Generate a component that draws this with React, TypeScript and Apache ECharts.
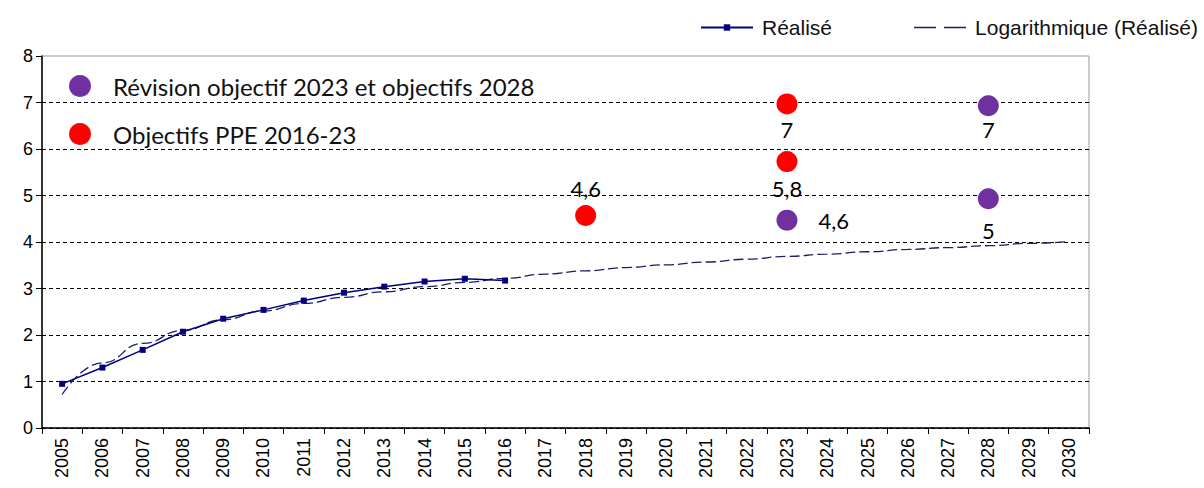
import React, { useEffect, useRef } from "react";
import * as echarts from "echarts";

const years = [
  "2005", "2006", "2007", "2008", "2009", "2010", "2011", "2012", "2013",
  "2014", "2015", "2016", "2017", "2018", "2019", "2020", "2021", "2022",
  "2023", "2024", "2025", "2026", "2027", "2028", "2029", "2030",
];

const realise = [0.95, 1.3, 1.68, 2.07, 2.35, 2.54, 2.74, 2.91, 3.04, 3.15, 3.21, 3.17];

const trend = [
  0.72, 1.4, 1.82, 2.1, 2.33, 2.52, 2.68, 2.81, 2.93, 3.04, 3.13, 3.22, 3.31,
  3.38, 3.45, 3.51, 3.57, 3.63, 3.69, 3.74, 3.79, 3.84, 3.88, 3.92, 3.97, 4.01,
];

const ppeYears = ["2018", "2023", "2023"];
const ppeValues = [4.57, 6.97, 5.73];
const ppeLabels = ["4,6", "7", "5,8"];

const revYears = ["2023", "2028", "2028"];
const revValues = [4.47, 6.93, 4.93];
const revLabels = ["4,6", "7", "5"];

const yTicks = [0, 1, 2, 3, 4, 5, 6, 7, 8];

const NAME_REAL = "Réalisé";
const NAME_TREND = "Logarithmique (Réalisé)";
const NAME_REV = "Révision objectif 2023 et objectifs 2028";
const NAME_PPE = "Objectifs PPE 2016-23";

const ppePlacement = [
  { position: "top", distance: 5 },
  { position: "bottom", distance: 4 },
  { position: "bottom", distance: 5 },
];
const revPlacement = [
  { position: "right", distance: 21 },
  { position: "bottom", distance: 2 },
  { position: "bottom", distance: 10 },
];

const labelFont = { fontFamily: "Lato", fontSize: 22, color: "#000" };

const TREND_COLOR = "#1c1c6b";
const dashIcon =
  "path://M0,3.3H22V4.7H0Z M30,3.3H52V4.7H30Z M0,0H0.02V0.02H0Z M51.98,7.98H52V8H51.98Z";

export default function App() {
  const ref = useRef<HTMLDivElement>(null);

  useEffect(() => {
    document.body.style.margin = "0";
    const chart = echarts.init(ref.current!, null, { renderer: "svg" });

    const scatterData = (cats: string[], vals: number[], labels: string[], place: any[]) =>
      cats.map((c, i) => ({
        value: [c, vals[i]],
        label: {
          show: true,
          position: place[i].position,
          distance: place[i].distance,
          formatter: labels[i],
          ...labelFont,
        },
      }));

    const option: any = {
      animation: false,
      backgroundColor: "#fff",
      grid: {
        left: 42,
        right: 115,
        top: 56,
        bottom: 60,
        show: true,
        borderColor: "#999",
        borderWidth: 1,
        backgroundColor: "transparent",
      },
      legend: [
        {
          data: [
            { name: NAME_REAL },
            { name: NAME_TREND, icon: dashIcon, itemStyle: { color: TREND_COLOR } },
          ],
          left: 700,
          top: 17,
          width: 700,
          padding: 0,
          itemWidth: 52,
          itemHeight: 8,
          itemGap: 82,
          textStyle: {
            fontFamily: "Liberation Sans",
            fontSize: 21,
            color: "#111",
            padding: [0, 0, 0, 4],
          },
        },
        {
          data: [
            { name: NAME_REV, icon: "circle" },
            { name: NAME_PPE, icon: "circle" },
          ],
          orient: "vertical",
          left: 64,
          top: 69,
          itemWidth: 22,
          itemHeight: 22,
          itemGap: 24,
          textStyle: {
            fontFamily: "Lato",
            fontSize: 24,
            color: "#111",
            padding: [0, 0, 0, 17],
          },
        },
      ],
      xAxis: {
        type: "category",
        data: years,
        boundaryGap: true,
        axisLine: { lineStyle: { color: "#000", width: 1.5 } },
        axisTick: { show: true, length: 6, lineStyle: { color: "#000" } },
        axisLabel: {
          rotate: 90,
          interval: 0,
          margin: 10,
          fontFamily: "Liberation Sans",
          fontSize: 18,
          color: "#000",
        },
        splitLine: { show: false },
      },
      yAxis: {
        type: "value",
        min: yTicks[0],
        max: yTicks[yTicks.length - 1],
        interval: 1,
        axisLine: { show: true, lineStyle: { color: "#000", width: 1.5 } },
        axisTick: { show: true, length: 6, lineStyle: { color: "#000" } },
        axisLabel: {
          margin: 9,
          fontFamily: "Liberation Sans",
          fontSize: 18,
          color: "#000",
        },
        splitLine: {
          show: true,
          lineStyle: {
            color: ["#000", "#000", "#000", "#000", "#000", "#000", "#000", "#000", "rgba(0,0,0,0)"],
            type: [4, 3],
            width: 1.2,
          },
        },
      },
      series: [
        {
          name: NAME_TREND,
          type: "line",
          data: trend,
          symbol: "none",
          smooth: true,
          smoothMonotone: "x",
          lineStyle: { color: TREND_COLOR, width: 1.3, type: [10, 4] },
          itemStyle: { color: TREND_COLOR },
          z: 2,
        },
        {
          name: NAME_REAL,
          type: "line",
          data: realise,
          symbol: "rect",
          symbolSize: 6,
          lineStyle: { color: "#000080", width: 1.5 },
          itemStyle: { color: "#000080" },
          z: 3,
        },
        {
          name: NAME_REV,
          type: "scatter",
          symbolSize: 21,
          itemStyle: { color: "#7030A0", opacity: 1 },
          data: scatterData(revYears, revValues, revLabels, revPlacement),
          z: 4,
        },
        {
          name: NAME_PPE,
          type: "scatter",
          symbolSize: 21,
          itemStyle: { color: "#FF0000", opacity: 1 },
          data: scatterData(ppeYears, ppeValues, ppeLabels, ppePlacement),
          z: 4,
        },
      ],
    };

    chart.setOption(option);
    return () => chart.dispose();
  }, []);

  return (
    <div
      ref={ref}
      style={{ position: "fixed", left: 0, top: 0, width: 1204, height: 488 }}
    />
  );
}
